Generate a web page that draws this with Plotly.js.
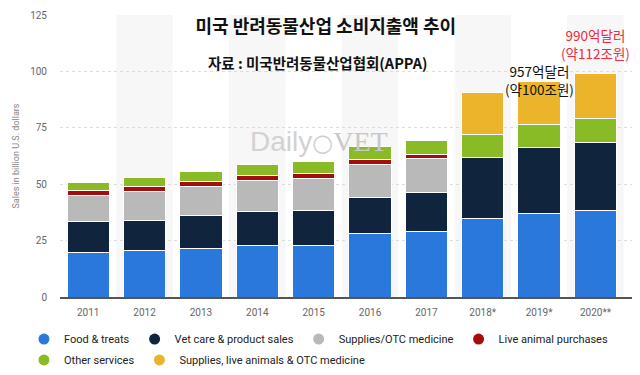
<!DOCTYPE html>
<html>
<head>
<meta charset="utf-8">
<script src="https://cdn.plot.ly/plotly-3.0.1.min.js"></script>
<style>html,body{margin:0;padding:0;background:#fff;}#chart{width:640px;height:375px;}</style>
</head>
<body>
<div id="chart"></div>
<script>
const categories = ['2011','2012','2013','2014','2015','2016','2017','2018*','2019*','2020**'];
const foodTreats = [19.85, 20.46, 21.57, 22.62, 23.05, 28.23, 29.07, 34.7, 36.9, 38.4];
const vetCare = [13.41, 13.67, 14.37, 15.25, 15.42, 15.95, 17.07, 27.3, 29.3, 30.2];
const suppliesOTC = [11.77, 12.65, 13.14, 13.75, 14.28, 14.71, 15.11, null, null, null];
const liveAnimals = [2.14, 2.21, 2.23, 2.15, 2.12, 2.1, 2.1, null, null, null];
const otherServices = [3.79, 4.16, 4.41, 4.84, 5.41, 5.76, 6.16, 9.9, 10.3, 10.7];
const suppliesLiveOTC = [null, null, null, null, null, null, null, 18.6, 19.2, 19.7];

const seriesNames = ['Food & treats', 'Vet care & product sales', 'Supplies/OTC medicine', 'Live animal purchases', 'Other services', 'Supplies, live animals & OTC medicine'];
const seriesValues = [foodTreats, vetCare, suppliesOTC, liveAnimals, otherServices, suppliesLiveOTC];
const seriesColors = ['#2a78dc', '#10253d', '#b9b9b9', '#a50c0c', '#89bb27', '#ecb42a'];

const calloutIndex = [8, 9];
const calloutText = ['957억달러<br>(약100조원)', '990억달러<br>(약112조원)'];
const calloutColor = ['#111111', '#ee2a3d'];
const calloutShift = [-20, 9];

const totals = categories.map((c, i) => seriesValues.reduce((s, arr) => s + (arr[i] || 0), 0));

const traces = [];
seriesValues.forEach((vals, k) => {
  traces.push({
    type: 'bar', x: categories, y: vals, name: seriesNames[k],
    marker: {color: seriesColors[k], line: {color: '#ffffff', width: 1}},
    showlegend: false, hoverinfo: 'skip'
  });
});
seriesValues.forEach((vals, k) => {
  traces.push({
    type: 'scatter', mode: 'markers', x: [null], y: [null], name: seriesNames[k],
    marker: {color: seriesColors[k], size: 11, symbol: 'circle'},
    legend: k < 4 ? 'legend' : 'legend2', hoverinfo: 'skip'
  });
});

const shapes = [];
categories.forEach((c, i) => {
  if (i % 2 === 1) {
    shapes.push({type: 'rect', xref: 'x', yref: 'paper', x0: i - 0.5, x1: i + 0.5, y0: 0, y1: 1,
      fillcolor: '#f7f7f7', line: {width: 0}, layer: 'below'});
  }
});

const annotations = [
  {xref: 'paper', yref: 'paper', x: 0.451, y: 0.83, xanchor: 'center', yanchor: 'middle', showarrow: false,
   text: '<b>자료 : 미국반려동물산업협회(APPA)</b>', font: {family: 'Noto Sans CJK KR', size: 14.5, color: '#111'}},
  {xref: 'paper', yref: 'paper', x: 0.453, y: 0.55, xanchor: 'center', yanchor: 'middle', showarrow: false,
   text: '<span style="color:#d2d2d2">Daily</span><span style="font-family:DejaVu Sans;color:#cfcfcf;font-size:24px">○</span><span style="font-family:Liberation Serif;color:#c8c8c8">VET</span>',
   font: {family: 'Liberation Sans', size: 28, color: '#d0d0d0'}}
];
calloutIndex.forEach((idx, j) => {
  annotations.push({xref: 'x', yref: 'y', x: categories[idx], y: totals[idx], xanchor: 'center', yanchor: 'bottom',
    yshift: calloutShift[j], showarrow: false, text: calloutText[j],
    font: {family: 'Noto Sans CJK KR', size: 13.5, color: calloutColor[j]}});
});

const legendFont = {family: 'Roboto', size: 11, color: '#222'};

const layout = {
  width: 640, height: 375,
  margin: {l: 60, r: 8, t: 15, b: 78, autoexpand: false},
  paper_bgcolor: '#ffffff', plot_bgcolor: '#ffffff',
  barmode: 'stack', bargap: 0.25,
  title: {text: '<b>미국 반려동물산업 소비지출액 추이</b>', xref: 'container', yref: 'container', x: 0.509, y: 0.928,
    xanchor: 'center', yanchor: 'middle', font: {family: 'Noto Sans CJK KR', size: 18, color: '#111'}},
  xaxis: {type: 'category', showgrid: false, showline: true, linecolor: '#555', linewidth: 1.5,
    tickfont: {family: 'Roboto', size: 10, color: '#666'}, ticks: '', ticklabelstandoff: 5, fixedrange: true},
  yaxis: {range: [0, 125], tickvals: [0, 25, 50, 75, 100, 125], showgrid: true, gridcolor: '#dcdcdc', griddash: 'dot',
    zeroline: false, tickfont: {family: 'Roboto', size: 10, color: '#666'}, ticklabelstandoff: 12,
    title: {text: 'Sales in billion U.S. dollars', font: {family: 'Roboto', size: 9, color: '#888'}, standoff: 8}},
  legend: {orientation: 'h', traceorder: 'normal', xref: 'paper', yref: 'paper', x: -0.063, y: -0.149,
    xanchor: 'left', yanchor: 'middle', font: legendFont, itemwidth: 30, bgcolor: 'rgba(0,0,0,0)'},
  legend2: {orientation: 'h', traceorder: 'normal', xref: 'paper', yref: 'paper', x: -0.063, y: -0.223,
    xanchor: 'left', yanchor: 'middle', font: legendFont, itemwidth: 30, bgcolor: 'rgba(0,0,0,0)'},
  shapes: shapes,
  annotations: annotations,
  hovermode: false
};

Plotly.newPlot('chart', traces, layout, {displayModeBar: false, staticPlot: true});
</script>
</body>
</html>
